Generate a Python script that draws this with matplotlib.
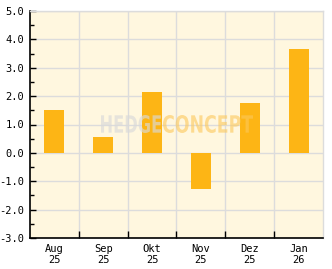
import numpy as np
import matplotlib
matplotlib.use("Agg")
import matplotlib.pyplot as plt
from matplotlib.textpath import TextPath
from matplotlib.font_manager import FontProperties
from matplotlib.patches import PathPatch
from matplotlib.transforms import Affine2D, IdentityTransform

months = ["Aug\n25", "Sep\n25", "Okt\n25", "Nov\n25", "Dez\n25", "Jan\n26"]
values = [1.52, 0.55, 2.15, -1.28, 1.77, 3.67]

bg = "#fff7df"
bar_col = "#fdb515"
grid_col = "#dcdcdc"

W, H = 332, 269
fig = plt.figure(figsize=(W / 100, H / 100), dpi=100)
ax = fig.add_axes([30 / W, 31 / H, 293 / W, 227 / H])
ax.set_facecolor(bg)

x = np.arange(len(months))
ax.bar(x, values, width=0.41, color=bar_col, zorder=3)

ax.set_xlim(-0.5, len(months) - 0.5)
ax.set_ylim(-3, 5)

# y axis
ax.set_yticks(np.arange(-3, 5.1, 1))
ax.set_yticklabels(["%.1f" % v for v in np.arange(-3, 5.1, 1)])
ax.set_yticks(np.arange(-2.5, 5, 1), minor=True)
ax.tick_params(axis="y", which="major", direction="in", length=4, width=1,
               labelsize=7.5, pad=4)
ax.tick_params(axis="y", which="minor", direction="in", length=3, width=1)

# x axis: boundaries as major ticks, labels on minor
ax.set_xticks(np.arange(0.5, len(months) - 0.5, 1))
ax.set_xticklabels([])
ax.set_xticks(x, minor=True)
ax.set_xticklabels(months, minor=True)
ax.tick_params(axis="x", which="major", direction="in", length=5, width=1)
ax.tick_params(axis="x", which="minor", length=0, labelsize=7.5, pad=4)

for lab in ax.get_xticklabels(minor=True) + ax.get_yticklabels():
    lab.set_family("DejaVu Sans Mono")
    lab.set_linespacing(1.2)

ax.grid(True, which="major", color=grid_col, linewidth=1, zorder=0)
ax.set_axisbelow(True)

for s in ["left", "bottom"]:
    ax.spines[s].set_color("black")
    ax.spines[s].set_linewidth(1.2)
for s in ["top", "right"]:
    ax.spines[s].set_color(grid_col)
    ax.spines[s].set_linewidth(1)


# watermark, squeezed into a box given in pixels (left, top, right, bottom)
def stamp(txt, box, color, alpha):
    fp = FontProperties(family="DejaVu Sans", weight="bold")
    tp = TextPath((0, 0), txt, size=10, prop=fp)
    ext = tp.get_extents()
    x0, y0, x1, y1 = box
    sx = (x1 - x0) / ext.width
    sy = (y1 - y0) / ext.height
    tr = (Affine2D().translate(-ext.x0, -ext.y0).scale(sx, sy)
          .translate(x0, H - y1))
    p = PathPatch(tr.transform_path(tp), facecolor=color, edgecolor="none",
                  alpha=alpha, transform=IdentityTransform(), zorder=5)
    fig.add_artist(p)


stamp("HEDGE", (101, 115, 161, 133), "#d9d9d9", 0.65)
stamp("CONCEPT", (163, 115, 253, 133), "#fcc85a", 0.6)

fig.savefig("out.png", dpi=100, facecolor="white")
